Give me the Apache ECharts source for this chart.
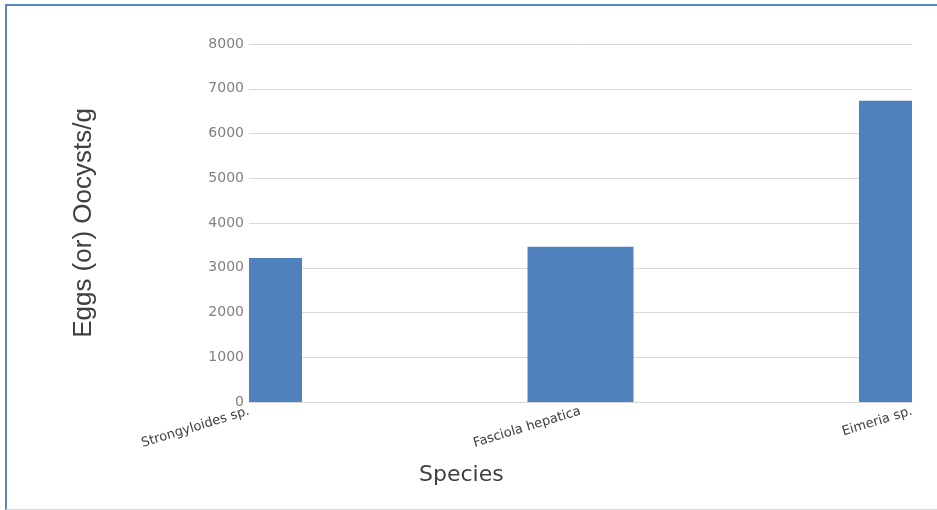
<!DOCTYPE html>
<html>
<head>
<meta charset="utf-8">
<script src="https://cdn.jsdelivr.net/npm/echarts@6/dist/echarts.min.js"></script>
<style>
  html, body { margin: 0; padding: 0; background: #fff; }
  #frame { position: absolute; left: 5px; top: 4px; width: 940px; height: 503px;
    border-top: 2px solid #5b86c5; border-left: 2px solid #5b86c5; border-bottom: 1px solid #d8d8d8; }
  #chart { position: absolute; left: 0; top: 0; width: 937px; height: 510px; }
</style>
</head>
<body>
<div id="frame"></div>
<div id="chart"></div>
<script>
const species = ["Strongyloides sp.", "Fasciola hepatica", "Eimeria sp."];
const counts = [3220, 3470, 6730];
const yTicks = [0, 1000, 2000, 3000, 4000, 5000, 6000, 7000, 8000];

const chart = echarts.init(document.getElementById("chart"));
const font = "'Liberation Sans', Arial, sans-serif";
const wide = "'DejaVu Sans', sans-serif";

// bars are centred on the category ticks (boundaryGap false) and clipped to the plot area
function renderBar(params, api) {
  const top = api.coord([api.value(0), api.value(1)]);
  const base = api.coord([api.value(0), 0]);
  const w = 106;
  const cs = params.coordSys;
  const shape = echarts.graphic.clipRectByRect(
    { x: top[0] - w / 2, y: top[1], width: w, height: base[1] - top[1] },
    { x: cs.x, y: cs.y, width: cs.width, height: cs.height }
  );
  return shape && { type: "rect", shape: shape, style: { fill: "#4f81bd" } };
}

chart.setOption({
  backgroundColor: "transparent",
  animation: false,
  textStyle: { fontFamily: font },
  grid: { left: 249, right: 25, top: 44, bottom: 108 },
  xAxis: {
    type: "category",
    data: species,
    boundaryGap: false,
    axisLine: { show: true, lineStyle: { color: "#d9d9d9" } },
    axisTick: { show: false },
    splitLine: { show: false },
    axisLabel: { color: "#404040", fontSize: 13, rotate: 17, margin: 9, fontFamily: wide }
  },
  yAxis: {
    type: "value",
    min: yTicks[0],
    max: yTicks[yTicks.length - 1],
    interval: 1000,
    name: "Eggs (or) Oocysts/g",
    nameLocation: "middle",
    nameGap: 152,
    nameTextStyle: { color: "#404040", fontSize: 26, fontFamily: font },
    axisLine: { show: false },
    axisTick: { show: false },
    axisLabel: { color: "#808080", fontSize: 14, margin: 5, fontFamily: wide, formatter: (v) => String(v) },
    splitLine: { lineStyle: { color: "#d9d9d9", width: 1 } }
  },
  graphic: [
    { type: "text", left: 419, top: 464,
      style: { text: "Species", fill: "#404040", font: "22px " + wide } }
  ],
  series: [
    {
      type: "custom",
      renderItem: renderBar,
      encode: { x: 0, y: 1 },
      data: counts.map((v, i) => [i, v])
    }
  ]
});
</script>
</body>
</html>
